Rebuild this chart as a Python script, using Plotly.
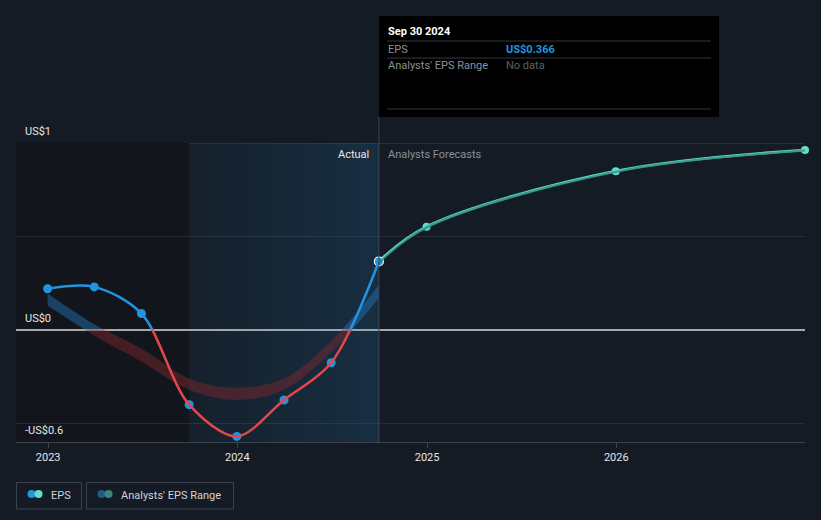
import plotly.graph_objects as go

# ── Data ─────────────────────────────────────────────────
actual_dates = ["2022-12-31", "2023-03-31", "2023-06-30", "2023-09-30",
                "2023-12-31", "2024-03-31", "2024-06-30", "2024-09-30"]
actual_eps = [0.22, 0.23, 0.087, -0.40, -0.57, -0.375, -0.176, 0.366]

# past analyst range (low / high)
range_low = [0.13, -0.03, -0.17, -0.32, -0.375, -0.32, -0.12, 0.17]
range_high = [0.195, 0.03, -0.10, -0.26, -0.31, -0.26, -0.06, 0.24]

fc_dates = ["2024-09-30", "2024-12-31", "2025-12-31", "2026-12-31"]
fc_eps = [0.366, 0.552, 0.849, 0.962]
fc_low = [0.35, 0.54, 0.84, 0.955]
fc_high = [0.366, 0.556, 0.852, 0.965]

y_labels = {1.0: "US$1", 0.0: "US$0", -0.6: "-US$0.6"}
x_ticks = ["2023-01-01", "2024-01-01", "2025-01-01", "2026-01-01"]
x_ticktext = ["2023", "2024", "2025", "2026"]

# ── Layout constants ─────────────────────────────────────
W, H = 821, 520
L, R, T, B = 16, 16, 143, 78
PW, PH = W - L - R, H - T - B
Y_MIN, Y_MAX = -0.6, 1.0
ZERO_FRAC = (0 - Y_MIN) / (Y_MAX - Y_MIN)

BG = "#151b24"
BLUE = "#2394df"
RED = "#e2484a"
TEAL = "#5ddfc8"
FONT = "Roboto, Open Sans, sans-serif"


def px(x):
    return (x - L) / PW


def py(y):
    return (H - B - y) / PH


fig = go.Figure()

# shaded "past year" region with gradient
fig.add_trace(go.Scatter(
    x=["2023-09-30", "2024-09-30", "2024-09-30", "2023-09-30", "2023-09-30"],
    y=[Y_MIN, Y_MIN, Y_MAX, Y_MAX, Y_MIN],
    mode="none", fill="toself", hoverinfo="skip", showlegend=False,
    fillgradient=dict(type="horizontal",
                      colorscale=[[0, "rgba(35,148,223,0.04)"],
                                  [1, "rgba(35,148,223,0.16)"]]),
))


def band(xs, lo, hi, color, yaxis):
    fig.add_trace(go.Scatter(x=xs, y=lo, mode="lines", line=dict(width=0, shape="spline"),
                             hoverinfo="skip", showlegend=False, yaxis=yaxis))
    fig.add_trace(go.Scatter(x=xs, y=hi, mode="lines", line=dict(width=0, shape="spline"),
                             fill="tonexty", fillcolor=color,
                             hoverinfo="skip", showlegend=False, yaxis=yaxis))


# analyst range: blue above zero, red below zero (clipped by sub axes)
band(actual_dates, range_low, range_high, "rgba(35,120,190,0.45)", "y3")
band(actual_dates, range_low, range_high, "rgba(130,40,46,0.45)", "y2")
band(fc_dates, fc_low, fc_high, "rgba(40,110,110,0.6)", "y3")

# EPS line: blue above zero, red below
fig.add_trace(go.Scatter(x=actual_dates, y=actual_eps, mode="lines",
                         line=dict(color=BLUE, width=2.5, shape="spline", smoothing=0.9),
                         hoverinfo="skip", showlegend=False, yaxis="y3"))
fig.add_trace(go.Scatter(x=actual_dates, y=actual_eps, mode="lines",
                         line=dict(color=RED, width=2.5, shape="spline", smoothing=0.9),
                         hoverinfo="skip", showlegend=False, yaxis="y2"))

# forecast line
fig.add_trace(go.Scatter(x=fc_dates, y=fc_eps, mode="lines+markers",
                         line=dict(color=TEAL, width=2.8, shape="spline"),
                         marker=dict(color=TEAL, size=8, line_width=0),
                         cliponaxis=False, hoverinfo="skip", showlegend=False))

# actual markers
fig.add_trace(go.Scatter(x=actual_dates[:-1], y=actual_eps[:-1], mode="markers",
                         marker=dict(color=BLUE, size=9, line_width=0),
                         cliponaxis=False, hoverinfo="skip", showlegend=False))
fig.add_trace(go.Scatter(x=actual_dates[-1:], y=actual_eps[-1:], mode="markers",
                         marker=dict(color=BLUE, size=9, line=dict(color="white", width=1.2)),
                         cliponaxis=False, hoverinfo="skip", showlegend=False))

shapes = [
    # dark region before the highlighted year
    dict(type="rect", xref="x", yref="y", x0="2022-10-31", x1="2023-09-30",
         y0=Y_MIN, y1=Y_MAX, fillcolor="#12161c", line_width=0, layer="below"),
    # top line
    dict(type="line", xref="paper", yref="y", x0=0, x1=1, y0=1, y1=1,
         line=dict(color="#3a414c", width=1), layer="below"),
    # today divider
    dict(type="line", xref="x", yref="paper", x0="2024-09-30", x1="2024-09-30",
         y0=0, y1=py(117), line=dict(color="#3a4552", width=1)),
    # tooltip box
    dict(type="rect", xref="paper", yref="paper", x0=px(379), x1=px(719),
         y0=py(117), y1=py(16), fillcolor="#000000", line_width=0),
]
for yy in (41, 58, 109):
    shapes.append(dict(type="line", xref="paper", yref="paper", x0=px(387), x1=px(711),
                       y0=py(yy), y1=py(yy), line=dict(color="#34373c", width=1)))

# legend boxes
for x0, x1 in ((16.5, 81.5), (86.5, 233.5)):
    shapes.append(dict(type="rect", xref="paper", yref="paper", x0=px(x0), x1=px(x1),
                       y0=py(509), y1=py(482.5), line=dict(color="#3c424c", width=1),
                       fillcolor="rgba(0,0,0,0)"))
for cx, col in ((31.5, BLUE), (38.5, TEAL), (101.5, "#1f5a85"), (108.5, "#3b8682")):
    shapes.append(dict(type="circle", xref="paper", yref="paper",
                       x0=px(cx - 4), x1=px(cx + 4), y0=py(498), y1=py(490),
                       fillcolor=col, line_width=0))

annotations = []
for val, txt in y_labels.items():
    annotations.append(dict(x=px(23), xref="paper", y=val, yref="y", text=txt,
                            showarrow=False, xanchor="left", yanchor="bottom", yshift=3,
                            font=dict(size=11, color="#e6e6e6", family=FONT)))


def label(x, y, text, color, size=11, anchor="left", bold=False):
    if bold:
        text = f"<b>{text}</b>"
    annotations.append(dict(x=px(x), y=py(y), xref="paper", yref="paper", text=text,
                            showarrow=False, xanchor=anchor, yanchor="middle",
                            font=dict(size=size, color=color, family=FONT)))


label(371, 154, "Actual", "#e8e8e8", anchor="right")
label(386, 154, "Analysts Forecasts", "#8b9099")
label(386, 31, "Sep 30 2024", "#ffffff", bold=True)
label(386, 49, "EPS", "#8b9099")
label(504, 49, "US$0.366", BLUE, bold=True)
label(386, 66, "Analysts' EPS Range", "#8b9099")
label(504, 66, "No data", "#5c6068")
label(49, 495, "EPS", "#d0d3d8")
label(119, 495, "Analysts' EPS Range", "#d0d3d8")

fig.update_layout(
    width=W, height=H,
    margin=dict(l=L, r=R, t=T, b=B),
    paper_bgcolor=BG, plot_bgcolor="rgba(0,0,0,0)",
    font=dict(family=FONT, color="#e6e6e6", size=11),
    showlegend=False,
    xaxis=dict(type="date", range=["2022-10-31", "2026-12-31"],
               tickvals=x_ticks, ticktext=x_ticktext,
               showgrid=False, zeroline=False,
               showline=True, linecolor="#3d434c", linewidth=1,
               ticks="outside", ticklen=5, tickcolor="#3d434c",
               tickfont=dict(size=11, color="#e6e6e6")),
    yaxis=dict(range=[Y_MIN, Y_MAX], tickvals=[-0.5, 0, 0.5],
               showticklabels=False, gridcolor="#262c35", gridwidth=1,
               zeroline=True, zerolinecolor="#a8a8a8", zerolinewidth=2),
    yaxis2=dict(range=[Y_MIN, 0], domain=[0, ZERO_FRAC], anchor="x", visible=False),
    yaxis3=dict(range=[0, Y_MAX], domain=[ZERO_FRAC, 1], anchor="x", visible=False),
    shapes=shapes,
    annotations=annotations,
)

fig.write_html("out.html", config={"displayModeBar": False},
               post_script="document.body.style.margin='0';"
                           "document.body.style.background='" + BG + "';")
